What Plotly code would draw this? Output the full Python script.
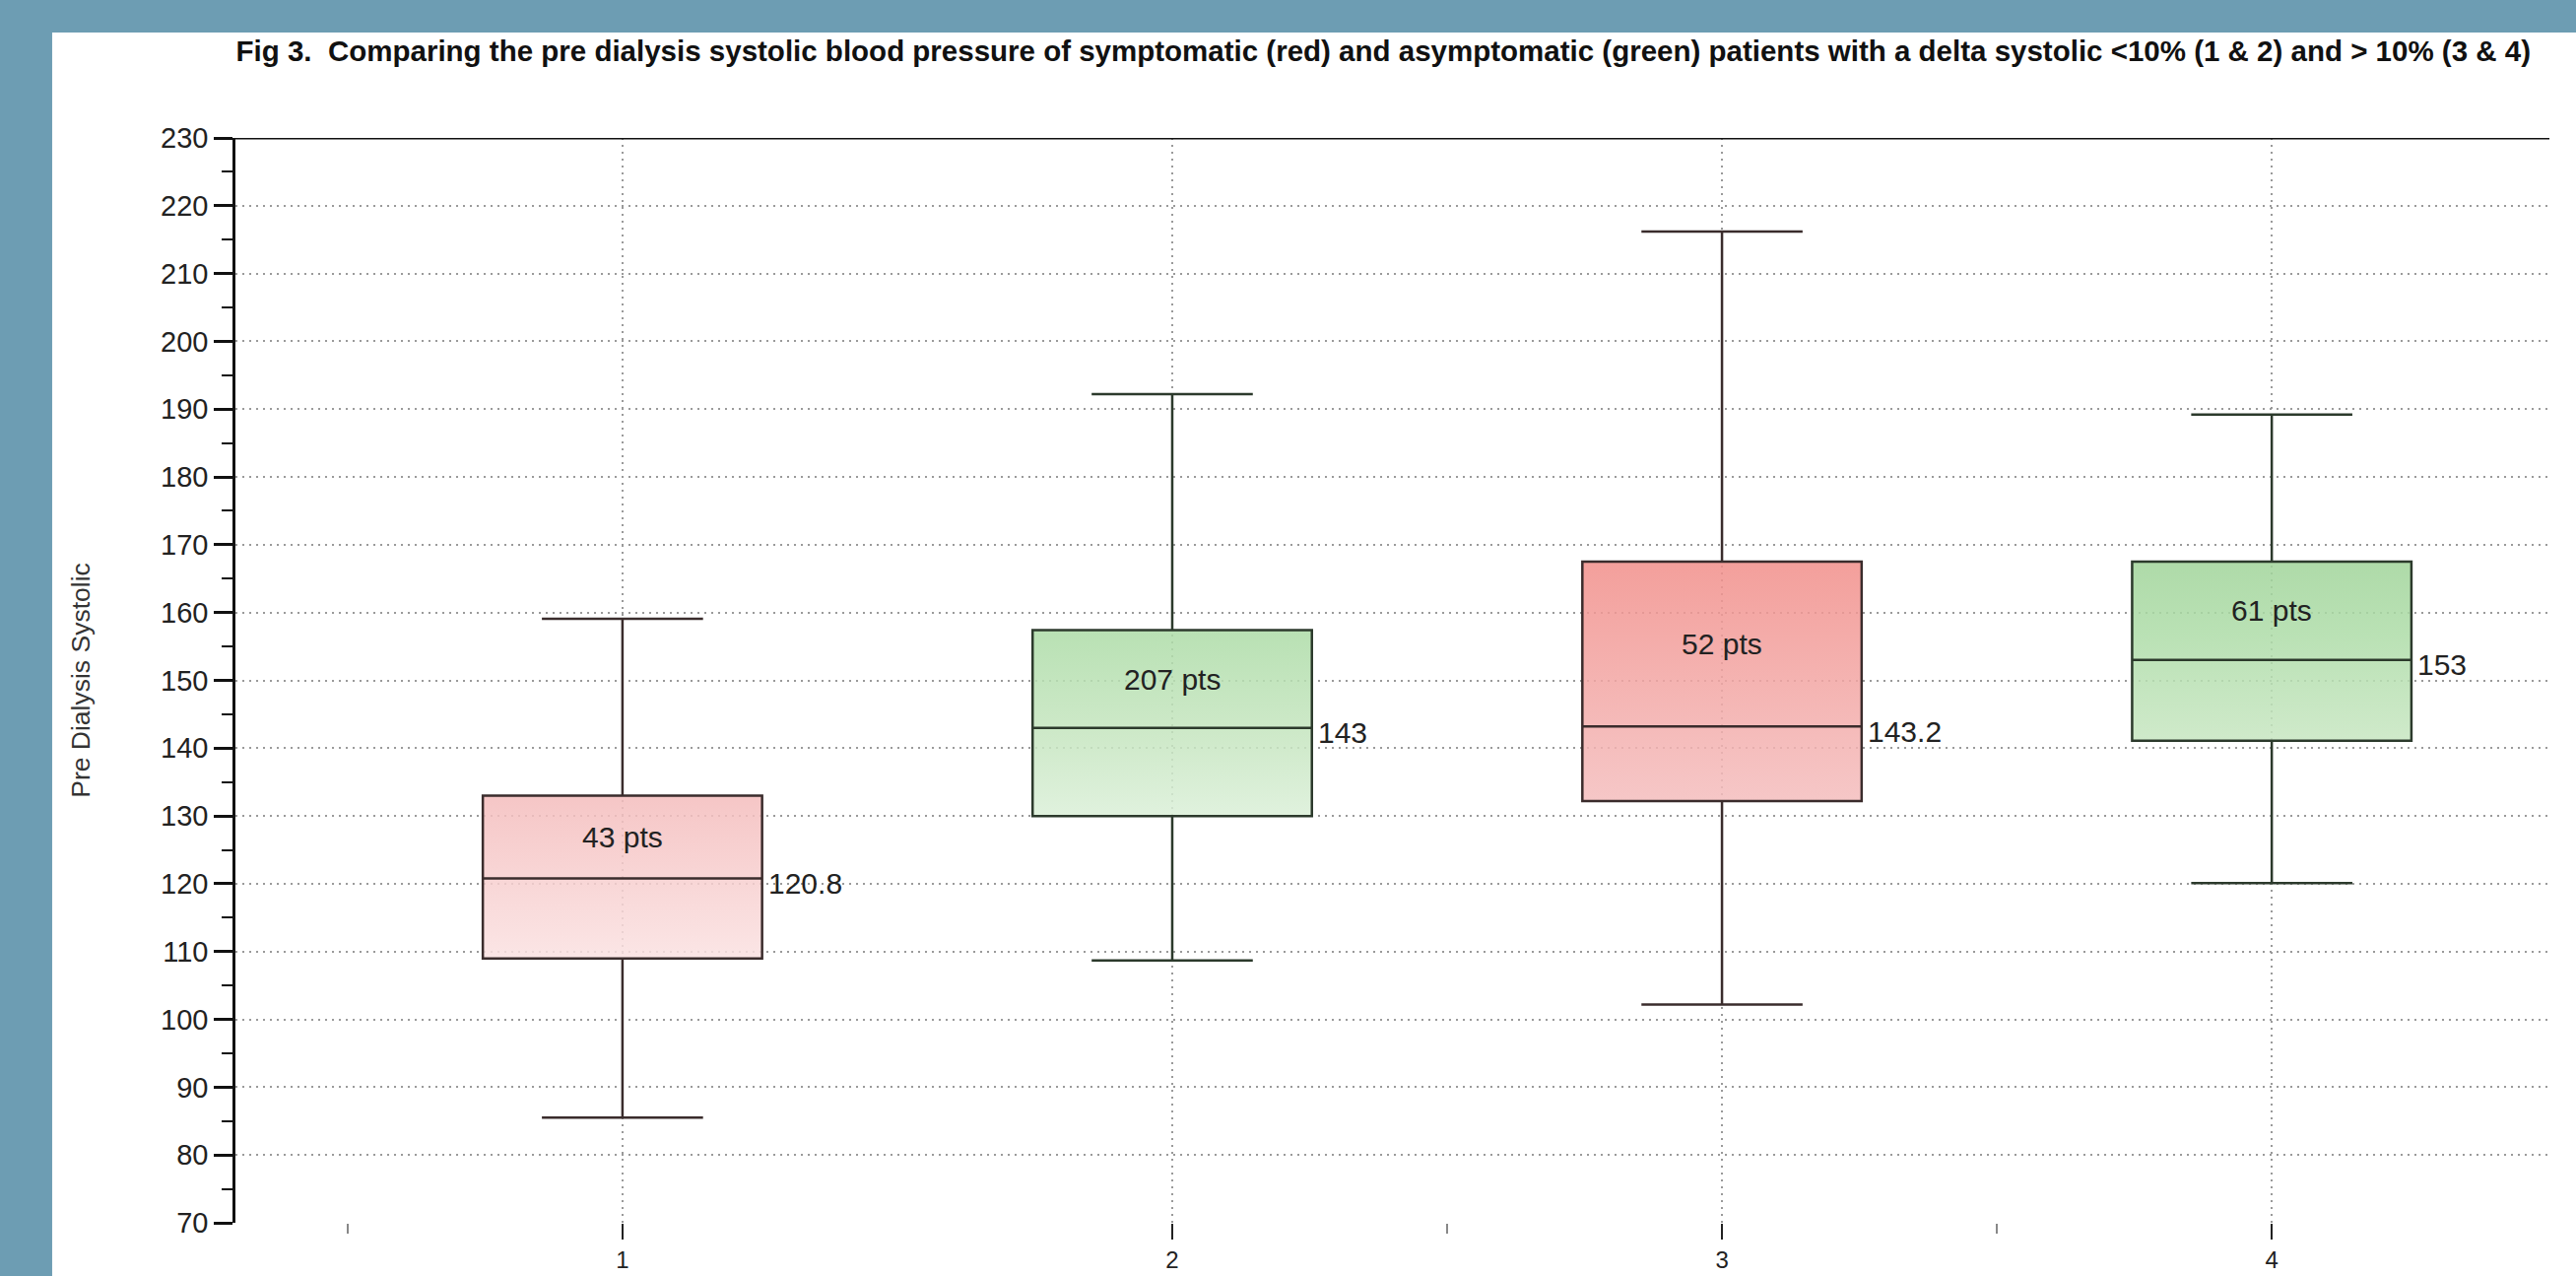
import plotly.graph_objects as go

# Groups: 1 & 2 = delta systolic < 10 %, 3 & 4 = delta systolic > 10 %
groups = [1, 2, 3, 4]
symptomatic = [True, False, True, False]          # red = symptomatic, green = asymptomatic
patients = [43, 207, 52, 61]

# Box-plot summary of pre dialysis systolic pressure (mmHg)
lower_whisker = [85.5, 108.7, 102.2, 120.1]
q1 = [109.0, 130.0, 132.2, 141.1]
median = [120.8, 143.0, 143.2, 153.0]
q3 = [133.0, 157.4, 167.5, 167.5]
upper_whisker = [159.1, 192.2, 216.2, 189.2]

y_ticks = list(range(70, 231, 10))

TITLE = ("Fig 3.  Comparing the pre dialysis systolic blood pressure of symptomatic (red) and "
         "asymptomatic (green) patients with a delta systolic &lt;10% (1 &amp; 2) and &gt; 10% (3 &amp; 4)")

FONT = "Liberation Sans, Arial, sans-serif"
BOX_W = 0.508
FILL_ALPHA = 0.85

# vertical colour ramps (displayed colour over white), anchored on absolute pressure values
RED_RAMP = dict(start=105, stop=170,
                stops=[(0.0, "#fcebeb"), (0.43, "#f6c6c6"), (1.0, "#f39c98")])
GREEN_RAMP = dict(start=128, stop=170,
                  stops=[(0.0, "#e3f3e1"), (0.31, "#cfeaca"), (0.69, "#b9e1b4"), (1.0, "#acd9a6")])


def over_white(hex_col, alpha):
    """rgba colour that shows as hex_col when laid over white at the given alpha."""
    h = hex_col.lstrip("#")
    rgb = [int(h[i:i + 2], 16) for i in (0, 2, 4)]
    comp = [max(0, min(255, round((c - (1 - alpha) * 255) / alpha))) for c in rgb]
    return f"rgba({comp[0]},{comp[1]},{comp[2]},{alpha})"


fig = go.Figure()

# gradient box fills (base subplot, under the outlines)
for g, sym, a, b in zip(groups, symptomatic, q1, q3):
    ramp = RED_RAMP if sym else GREEN_RAMP
    xl, xr = g - BOX_W / 2, g + BOX_W / 2
    fig.add_trace(go.Scatter(
        x=[xl, xr, xr, xl, xl], y=[a, a, b, b, a],
        mode="lines", line=dict(width=0), fill="toself",
        fillgradient=dict(type="vertical", start=ramp["start"], stop=ramp["stop"],
                          colorscale=[[p, over_white(c, FILL_ALPHA)] for p, c in ramp["stops"]]),
        hoverinfo="skip", showlegend=False,
    ))

# box outlines, medians and whiskers (overlay subplot, drawn on top)
for g, sym, lo, a, m, b, hi in zip(groups, symptomatic, lower_whisker, q1, median, q3, upper_whisker):
    fig.add_trace(go.Box(
        x=[g], lowerfence=[lo], q1=[a], median=[m], q3=[b], upperfence=[hi],
        width=BOX_W, whiskerwidth=0.577, boxpoints=False,
        fillcolor="rgba(0,0,0,0)",
        line=dict(color="#3a2c2c" if sym else "#2c3a2c", width=2.5),
        xaxis="x2", yaxis="y2", showlegend=False,
    ))

# group size inside each box, median value beside it
for g, n, m, b in zip(groups, patients, median, q3):
    fig.add_annotation(x=g, y=(m + b) / 2, text=f"{n} pts", showarrow=False,
                       font=dict(family=FONT, size=30, color="#222222"))
    fig.add_annotation(x=g + BOX_W / 2, y=m, text=f"{m:g}", showarrow=False,
                       xanchor="left", xshift=4, yshift=-5,
                       font=dict(family=FONT, size=30, color="#222222"))

# white card on the blue page
fig.add_shape(type="rect", xref="paper", yref="paper", x0=-0.0792, x1=1.03, y0=-0.08, y1=1.0972,
              fillcolor="white", line=dict(width=0), layer="below")
# closing line along the top of the plot
fig.add_shape(type="line", xref="paper", yref="y", x0=0, x1=1, y0=230, y1=230,
              line=dict(color="#111111", width=3))

X_RANGE = [0.296, 4.505]
Y_RANGE = [70, 230]

fig.update_layout(
    width=2615, height=1295,
    margin=dict(l=239, r=27, t=140, b=54, autoexpand=False),
    paper_bgcolor="#6d9db3", plot_bgcolor="white",
    font=dict(family=FONT, color="#222222"),
    title=dict(text=TITLE, xref="container", x=0.537, xanchor="center",
               yref="container", y=0.960, yanchor="middle",
               font=dict(family=FONT, size=29.5, color="#111111", weight="bold")),
    xaxis=dict(range=X_RANGE, automargin=False, tickmode="array", tickvals=groups,
               ticktext=[str(g) for g in groups],
               showline=False, zeroline=False, ticks="outside", ticklen=16, tickwidth=2,
               tickcolor="#222222", tickfont=dict(size=24, color="#222222"),
               showgrid=True, gridcolor="#9a9a9a", gridwidth=2, griddash="2px,5px",
               minor=dict(tickmode="array", tickvals=[0.5, 2.5, 3.5], ticks="outside",
                          ticklen=10, tickwidth=1.5, tickcolor="#888888", showgrid=False)),
    yaxis=dict(range=Y_RANGE, automargin=False, tickmode="array", tickvals=y_ticks,
               ticktext=[str(v) for v in y_ticks],
               showline=True, linecolor="#111111", linewidth=2.5, zeroline=False,
               ticks="outside", ticklen=19, tickwidth=2.5, tickcolor="#111111",
               tickfont=dict(size=29, color="#222222"),
               showgrid=True, gridcolor="#9a9a9a", gridwidth=2, griddash="2px,5px",
               minor=dict(dtick=5, tick0=75, ticks="outside", ticklen=11, tickwidth=2,
                          tickcolor="#111111", showgrid=False),
               title=dict(text="Pre Dialysis Systolic", standoff=64,
                          font=dict(size=26.5, color="#333333"))),
    xaxis2=dict(range=X_RANGE, overlaying="x", visible=False),
    yaxis2=dict(range=Y_RANGE, overlaying="y", visible=False),
)

fig.write_html("out.html")
